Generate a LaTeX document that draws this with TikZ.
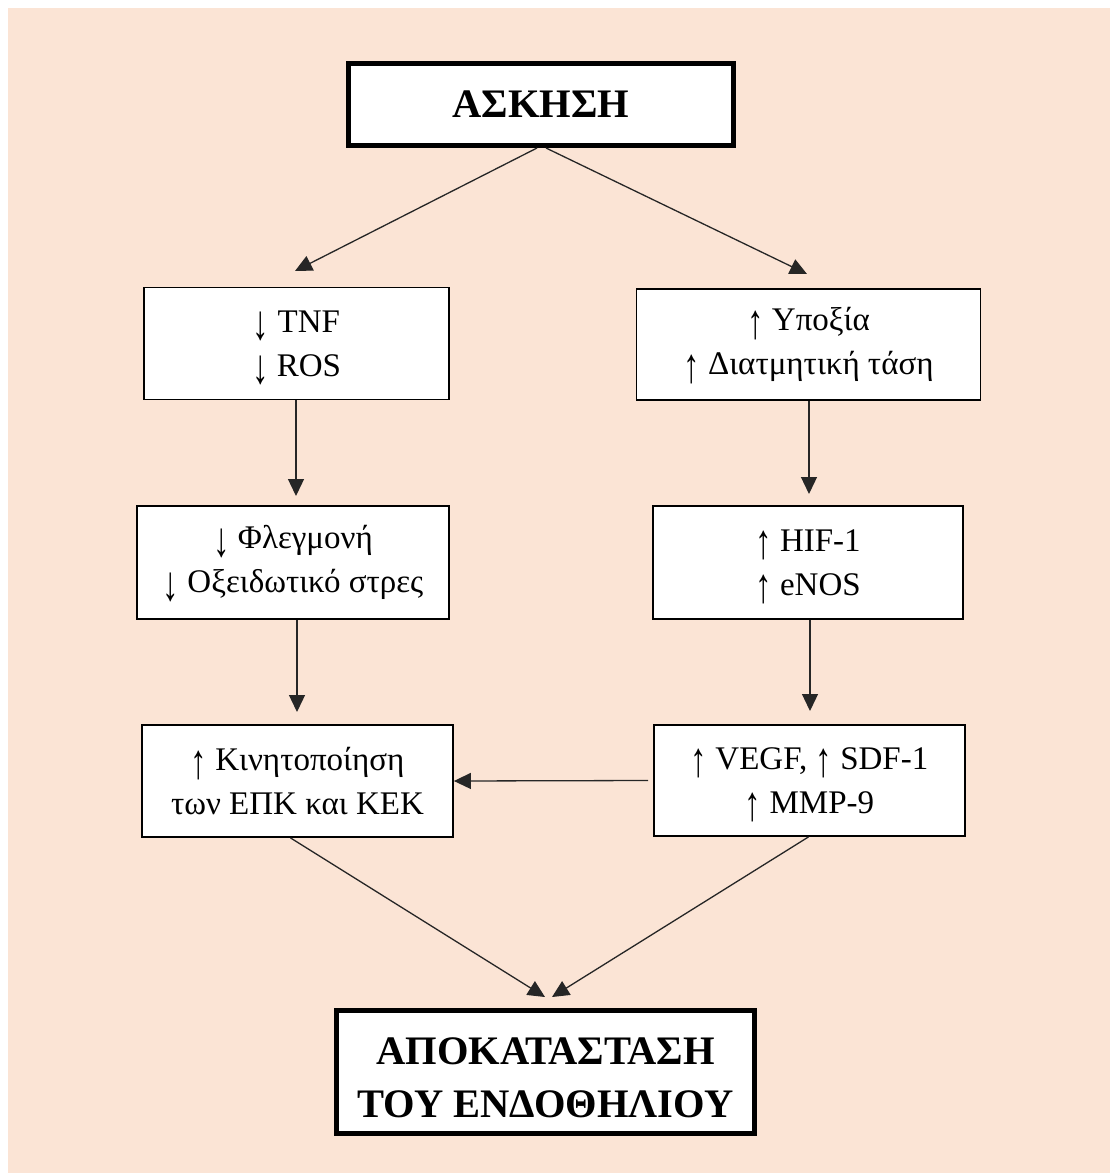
\documentclass[tikz,border=0pt]{standalone}
\usepackage{fontspec}
\setmainfont{Liberation Serif}
\usetikzlibrary{arrows.meta}
\definecolor{peach}{HTML}{FBE4D5}
\newcommand{\dnarr}{\smash{\raisebox{-9pt}{\resizebox*{\width}{29pt}{\raisebox{\depth}{↓}}}}}
\newcommand{\uparr}{\smash{\raisebox{-9pt}{\resizebox*{\width}{29pt}{\raisebox{\depth}{↑}}}}}
\begin{document}
\begin{tikzpicture}[x=1pt,y=-1pt,
  box/.style={draw=black, line width=1.8pt, fill=white, rectangle, inner sep=0pt, align=center, font=\fontsize{33}{44}\selectfont},
  bigbox/.style={box, line width=5pt, font=\bfseries\fontsize{40.5}{53}\selectfont},
  arr/.style={line width=1.3pt, draw=black!85, -{Triangle[length=17pt,width=16pt]}}]
\useasboundingbox (0,0) rectangle (1110,1173);
\fill[peach] (8,8) rectangle (1110,1173);

\node[bigbox, minimum width=385pt, minimum height=82pt] (A) at (541,104.5) {ΑΣΚΗΣΗ};
\node[box, minimum width=305pt, minimum height=112pt] (L1) at (296.5,343.5) {\dnarr{} TNF\\\dnarr{} ROS};
\node[box, minimum width=344pt, minimum height=111pt] (R1) at (808.5,344.5) {\uparr{} Υποξία\\\uparr{} Διατμητική τάση};
\node[box, minimum width=312pt, minimum height=113pt] (L2) at (293,562.5) {\dnarr{} Φλεγμονή\\\dnarr{} Οξειδωτικό στρες};
\node[box, minimum width=310pt, minimum height=113pt] (R2) at (808,562.5) {\uparr{} HIF-1\\\uparr{} eNOS};
\node[box, minimum width=311pt, minimum height=112pt] (L3) at (297.5,781) {\uparr{} Κινητοποίηση\\των ΕΠΚ και ΚΕΚ};
\node[box, minimum width=311pt, minimum height=111pt] (R3) at (809.5,780.5) {\uparr{} VEGF, \uparr{} SDF-1\\\uparr{} MMP-9};
\node[bigbox, minimum width=418pt, minimum height=123pt] (B) at (545.5,1072) {\rule{0pt}{39pt}ΑΠΟΚΑΤΑΣΤΑΣΗ\\ΤΟΥ ΕΝΔΟΘΗΛΙΟΥ};

\coordinate (tA1) at (295,271);
\coordinate (tA2) at (807,274);
\coordinate (t12) at (296,496);
\coordinate (r12) at (809,494);
\coordinate (t23) at (297,712);
\coordinate (r23) at (810,711);
\coordinate (b1) at (545,997);
\coordinate (b2) at (552,997);

\draw[arr] ([xshift=-4pt]A.south) -- (tA1);
\draw[arr] ([xshift=5pt]A.south) -- (tA2);
\draw[arr] (L1.south -| t12) -- (t12);
\draw[arr] (R1.south -| r12) -- (r12);
\draw[arr] (L2.south -| t23) -- (t23);
\draw[arr] (R2.south -| r23) -- (r23);
\draw[arr] ([xshift=-5pt]R3.west) -- (L3.east);
\draw[arr] ([xshift=-7pt]L3.south) -- (b1);
\draw[arr] ([xshift=-1pt]R3.south) -- (b2);
\end{tikzpicture}
\end{document}
